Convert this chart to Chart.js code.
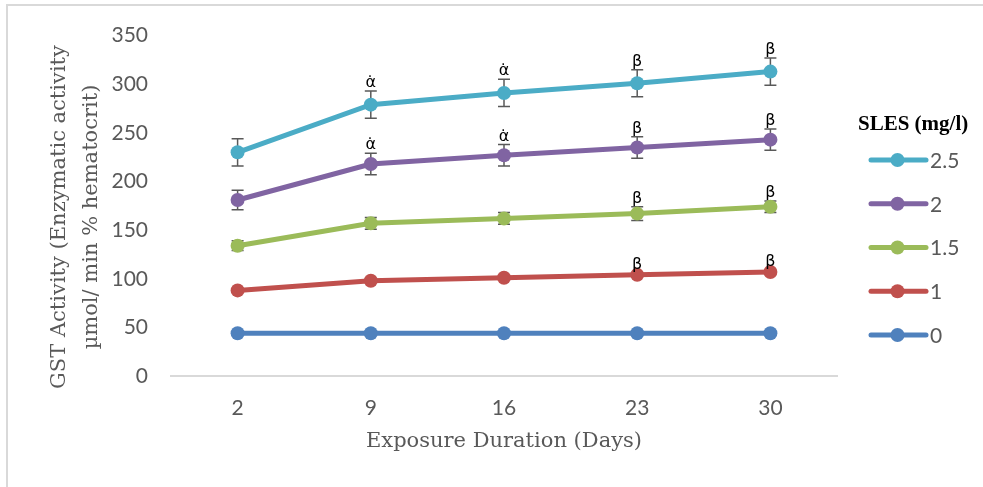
<!DOCTYPE html>
<html>
<head>
<meta charset="utf-8">
<script src="https://cdn.jsdelivr.net/npm/chart.js@4"></script>
<style>
  html, body { margin: 0; padding: 0; background: #fff; }
  #wrap { position: relative; width: 983px; height: 487px; }
</style>
</head>
<body>
<div id="wrap"><canvas id="gst" width="983" height="487"></canvas></div>
<script>
// exposure days on the x axis
const days = ["2", "9", "16", "23", "30"];
// SLES concentrations (mg/l), one series each
const conc = ["0", "1", "1.5", "2", "2.5"];
const gst0  = [44, 44, 44, 44, 44];
const gst1  = [88, 98, 101, 104, 107];
const gst15 = [134, 157, 162, 167, 174];
const gst2  = [181, 218, 227, 235, 243];
const gst25 = [230, 279, 291, 301, 313];
// +/- error for each point
const err0  = [1, 1, 1, 1, 1];
const err1  = [1.5, 1.5, 1.5, 1.5, 1.5];
const err15 = [5, 6, 6, 7, 6];
const err2  = [10, 11, 11, 11, 11];
const err25 = [14, 14, 14, 14, 14];
const yTicks = [0, 50, 100, 150, 200, 250, 300, 350];
// significance marks: [series index, point index, text]
const marks = [
  [4, 1, "α̇"], [4, 2, "α̇"], [4, 3, "β"], [4, 4, "β"],
  [3, 1, "α̇"], [3, 2, "α̇"], [3, 3, "β"], [3, 4, "β"],
  [2, 3, "β"], [2, 4, "β"],
  [1, 3, "β"], [1, 4, "β"]
];

const colors = ["#4F81BD", "#C0504D", "#9BBB59", "#8064A2", "#4BACC6"];
const values = [gst0, gst1, gst15, gst2, gst25];
const errors = [err0, err1, err15, err2, err25];

const greyText = "#595959";
const tickFont = { family: "Lato", size: 21 };

function makeSet(i) {
  return {
    label: conc[i],
    data: values[i],
    borderColor: colors[i],
    backgroundColor: colors[i],
    borderWidth: 5,
    pointRadius: 7,
    pointHoverRadius: 7,
    pointBorderWidth: 0,
    tension: 0
  };
}

const extras = {
  id: "extras",
  beforeDraw(chart) {
    const ctx = chart.ctx;
    ctx.save();
    ctx.strokeStyle = "#d9d9d9";
    ctx.lineWidth = 2;
    ctx.beginPath();
    ctx.moveTo(7, 487);
    ctx.lineTo(7, 5);
    ctx.lineTo(983, 5);
    ctx.stroke();
    ctx.restore();
  },
  beforeDatasetsDraw(chart) {
    const ctx = chart.ctx;
    const ys = chart.scales.y;
    ctx.save();
    ctx.strokeStyle = "#595959";
    ctx.lineWidth = 1.5;
    chart.data.datasets.forEach((ds, i) => {
      const meta = chart.getDatasetMeta(i);
      meta.data.forEach((pt, j) => {
        const e = errors[i][j];
        const top = ys.getPixelForValue(ds.data[j] + e);
        const bot = ys.getPixelForValue(ds.data[j] - e);
        ctx.beginPath();
        ctx.moveTo(pt.x, top); ctx.lineTo(pt.x, bot);
        ctx.moveTo(pt.x - 6, top); ctx.lineTo(pt.x + 6, top);
        ctx.moveTo(pt.x - 6, bot); ctx.lineTo(pt.x + 6, bot);
        ctx.stroke();
      });
    });
    ctx.restore();
  },
  afterDatasetsDraw(chart) {
    const ctx = chart.ctx;
    const ys = chart.scales.y;
    ctx.save();
    // significance marks
    ctx.fillStyle = "#000";
    ctx.font = "16px 'DejaVu Sans'";
    ctx.textAlign = "center";
    ctx.textBaseline = "alphabetic";
    marks.forEach(([s, j, t]) => {
      const pt = chart.getDatasetMeta(s).data[j];
      const top = ys.getPixelForValue(values[s][j] + errors[s][j]);
      ctx.fillText(t, pt.x, top - 4);
    });

    // legend, highest concentration first
    ctx.font = "bold 21px 'Liberation Serif'";
    ctx.fillStyle = "#000";
    ctx.textAlign = "left";
    ctx.textBaseline = "middle";
    ctx.fillText("SLES (mg/l)", 858, 125);
    ctx.font = "21px Lato";
    for (let k = 0; k < conc.length; k++) {
      const i = conc.length - 1 - k;
      const y = 160 + k * 43.75;
      ctx.strokeStyle = colors[i];
      ctx.lineWidth = 5;
      ctx.lineCap = "round";
      ctx.beginPath();
      ctx.moveTo(871, y); ctx.lineTo(926, y);
      ctx.stroke();
      ctx.fillStyle = colors[i];
      ctx.beginPath();
      ctx.arc(897.5, y, 7, 0, Math.PI * 2);
      ctx.fill();
      ctx.fillStyle = greyText;
      ctx.fillText(conc[i], 930, y + 1);
    }

    // y axis title, two lines
    ctx.translate(0, 217);
    ctx.rotate(-Math.PI / 2);
    ctx.font = "21px 'DejaVu Serif'";
    ctx.textAlign = "center";
    ctx.textBaseline = "middle";
    ctx.fillStyle = greyText;
    ctx.fillText("GST Activity (Enzymatic activity", 0, 60);
    ctx.fillText("µmol/ min % hematocrit)", 0, 92);
    ctx.restore();
  }
};

new Chart(document.getElementById("gst"), {
  type: "line",
  data: {
    labels: days,
    datasets: [0, 1, 2, 3, 4].map(makeSet)
  },
  options: {
    responsive: false,
    animation: false,
    devicePixelRatio: 1,
    layout: { padding: { left: 0, right: 146, top: 35, bottom: 0 } },
    plugins: {
      legend: { display: false },
      tooltip: { enabled: false }
    },
    scales: {
      x: {
        type: "category",
        offset: true,
        grid: { display: false, drawTicks: false },
        border: { display: true, color: "#d9d9d9", width: 2 },
        ticks: { color: greyText, font: tickFont, padding: 20, maxRotation: 0 },
        title: {
          display: true,
          text: "Exposure Duration (Days)",
          color: greyText,
          font: { family: "DejaVu Serif", size: 21 },
          padding: { top: 0, bottom: 33 }
        },
        afterFit(s) { s.height = 111; }
      },
      y: {
        min: 0,
        max: 350,
        grid: { display: false, drawTicks: false },
        border: { display: false },
        afterBuildTicks(s) { s.ticks = yTicks.map(v => ({ value: v })); },
        ticks: { color: greyText, font: tickFont, padding: 23 },
        afterFit(s) { s.width = 171; }
      }
    }
  },
  plugins: [extras]
});
</script>
</body>
</html>
